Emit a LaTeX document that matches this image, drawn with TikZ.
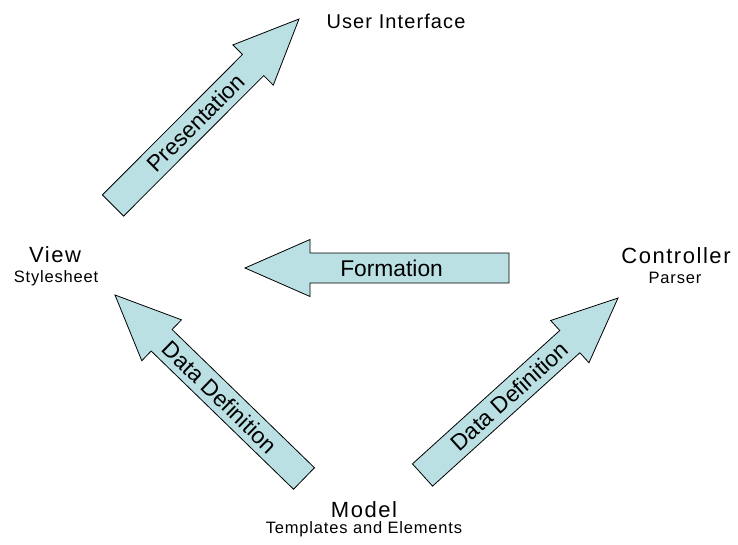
\documentclass[tikz,border=0pt]{standalone}
\usepackage{fontspec}
\setmainfont{Liberation Sans}
\usetikzlibrary{calc}

\definecolor{arrowfill}{RGB}{187,224,227}

\tikzset{
  blockarrow/.style={draw=black, line width=0.8pt, fill=arrowfill, line join=miter},
  arrowlabel/.style={inner sep=0pt, text height=16.3pt, text depth=0pt,
    font=\fontsize{22.8}{26}\selectfont},
  biglabel/.style={inner sep=0pt, anchor=base,
    font=\fontsize{22}{26}\selectfont\addfontfeature{LetterSpace=7}},
  toplabel/.style={inner sep=0pt, anchor=base,
    font=\fontsize{20}{24}\selectfont\addfontfeature{LetterSpace=5.5}},
  smalllabel/.style={inner sep=0pt, anchor=base,
    font=\fontsize{16.5}{19}\selectfont\addfontfeature{LetterSpace=5}},
}

% block arrow from tail #1 to tip #2, labelled #3 along its shaft
\newcommand\drawblockarrow[3]{%
  \coordinate (hb) at ($(#2)!65pt!(#1)$);
  \draw[blockarrow]
    ($(#1)!15pt!90:(#2)$) -- ($(hb)!15pt!90:(#2)$) -- ($(hb)!28.5pt!90:(#2)$)
    -- (#2)
    -- ($(hb)!28.5pt!-90:(#2)$) -- ($(hb)!15pt!-90:(#2)$) -- ($(#1)!15pt!-90:(#2)$)
    -- cycle;
  \path (#1) -- (hb) node[arrowlabel, pos=0.59, sloped] {#3};
}

\begin{document}
\begin{tikzpicture}[x=1pt, y=-1pt]
  \useasboundingbox (0,0) rectangle (738,545);

  % labels
  \node[toplabel]   (ui)     at (396,29)  {User Interface};
  \node[biglabel]   (view)   at (55,262)  {View};
  \node[smalllabel] (sheet)  at (56,282.5) {Stylesheet};
  \node[biglabel]   (ctrl)   at (676,263) {Controller};
  \node[smalllabel] (parser) at (675,283) {Parser};
  \node[biglabel]   (model)  at (364,517) {Model};
  \node[smalllabel] (tpl)    at (364,533) {Templates and Elements};

  % arrow ends
  \coordinate (presT) at (113,205.5);
  \coordinate (presP) at (299,19);
  \coordinate (formT) at (509,268);
  \coordinate (formP) at (245,268);
  \coordinate (ddlT)  at (304,478.5);
  \coordinate (ddlP)  at (115,295);
  \coordinate (ddrT)  at (422.5,475);
  \coordinate (ddrP)  at (618,298);

  \drawblockarrow{presT}{presP}{Presentation}
  \drawblockarrow{formT}{formP}{Formation}
  \drawblockarrow{ddlT}{ddlP}{Data Definition}
  \drawblockarrow{ddrT}{ddrP}{Data Definition}
\end{tikzpicture}
\end{document}
